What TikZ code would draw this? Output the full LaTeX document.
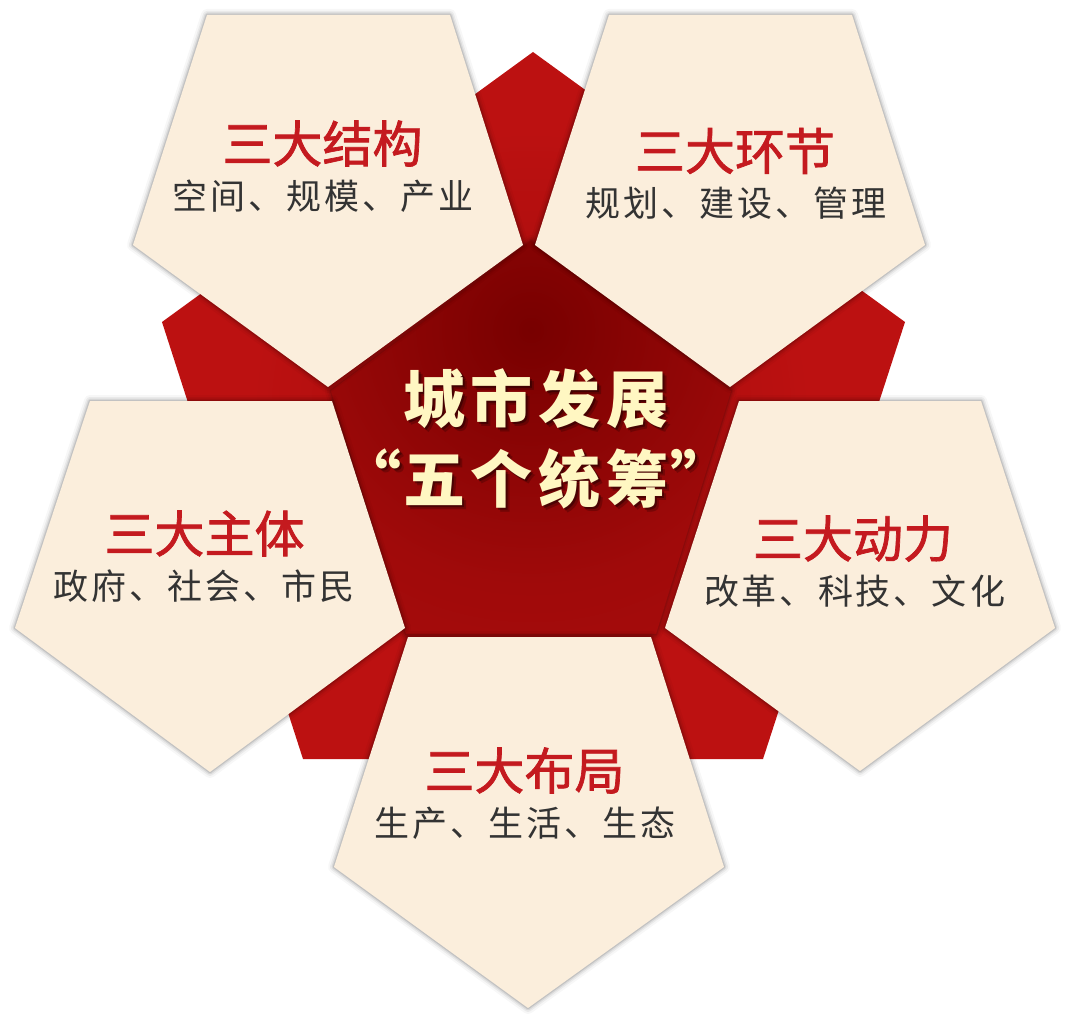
\documentclass[tikz,border=0pt]{standalone}
\usepackage{fontspec}
\newfontfamily\cjk{Noto Sans CJK SC}
\newfontfamily\cjkmed[FakeBold=1.4]{Noto Sans CJK SC}
\definecolor{cream}{HTML}{FBEEDC}
\definecolor{titlered}{HTML}{C41A1F}
\definecolor{subgray}{HTML}{333333}
\definecolor{cyellow}{HTML}{FFF7C2}
\definecolor{oc0}{HTML}{A20A0A}
\definecolor{oc1}{HTML}{BC1111}
\definecolor{rc0}{HTML}{780000}
\definecolor{rc1}{HTML}{8C0505}
\definecolor{rc2}{HTML}{A00A0A}
\definecolor{rc3}{HTML}{A80C0C}
\pgfdeclareradialshading{outerglow}{\pgfpoint{0bp}{0bp}}{color(0bp)=(oc0); color(14bp)=(oc1); color(50bp)=(oc1)}
\pgfdeclareradialshading{innerglow}{\pgfpoint{0bp}{0bp}}{color(0bp)=(rc0); color(8bp)=(rc1); color(16bp)=(rc2); color(25bp)=(rc3); color(50bp)=(rc3)}
\newcommand\ks{\kern3pt}
\newcommand\kc{\kern6pt}
\newcommand\pentpath[5]{#1--#2--#3--#4--#5--cycle}
\newcommand\pentglow[5]{%
  \foreach \w/\o in {12/0.03,8/0.05,5/0.07,2.5/0.10}{%
    \draw[black,line width=\w pt,draw opacity=\o,line join=round] \pentpath{#1}{#2}{#3}{#4}{#5};}}
\newcommand\pentfill[5]{\fill[cream] \pentpath{#1}{#2}{#3}{#4}{#5};}
\newcommand\ctextat[4]{%
  \node[ctext,#4] (#1a) at (536+#2,422.6+#3) {城\kc 市\kc 发\kc 展};
  \node[ctext,#4] (#1b) at (536+#2,502.6+#3) {五\kc 个\kc 统\kc 筹};
  \node[ctext,#4,anchor=base east] (#1q) at (402+#2,502.6+#3) {“};
  \node[ctext,#4,anchor=base west] (#1r) at (670+#2,502.6+#3) {”};
}
\begin{document}
\begin{tikzpicture}[x=1pt,y=-1pt,
  titletext/.style={font=\cjkmed\fontsize{50}{60}\selectfont, text=titlered, anchor=base, inner sep=0pt},
  subtext/.style={font=\cjk\fontsize{35}{42}\selectfont, text=subgray, anchor=base, inner sep=0pt},
  ctext/.style={font=\cjk\bfseries\fontsize{62}{72}\selectfont, anchor=base, inner sep=0pt}
]
\useasboundingbox[fill=white] (0,0) rectangle (1071,1024);
% big red pentagon
\begin{scope}
  \clip (533,52) -- (905,322) -- (763,759) -- (303,759) -- (162,322) -- cycle;
  \shade[shading=outerglow] (531,410) circle[radius=500];
\end{scope}
% central dark pentagon
\pentglow{(531,241)}{(731,391)}{(656,634)}{(406,634)}{(331,391)}
\begin{scope}
  \clip (531,241) -- (731,391) -- (656,634) -- (406,634) -- (331,391) -- cycle;
  \shade[shading=innerglow] (531,330) circle[radius=400];
\end{scope}
% shadows of the cream pentagons
\pentglow{(207,15)}{(450,15)}{(523,245)}{(328,387)}{(133,245)}
\pentglow{(609,15)}{(852,15)}{(925,245)}{(730,387)}{(535,245)}
\pentglow{(90,401)}{(332,401)}{(405,628)}{(210,772)}{(15,628)}
\pentglow{(739,401)}{(981,401)}{(1055,628)}{(860,771)}{(665,628)}
\pentglow{(408,637)}{(651,637)}{(724,867)}{(528,1008)}{(334,867)}
% cream pentagons
\pentfill{(207,15)}{(450,15)}{(523,245)}{(328,387)}{(133,245)}
\pentfill{(609,15)}{(852,15)}{(925,245)}{(730,387)}{(535,245)}
\pentfill{(90,401)}{(332,401)}{(405,628)}{(210,772)}{(15,628)}
\pentfill{(739,401)}{(981,401)}{(1055,628)}{(860,771)}{(665,628)}
\pentfill{(408,637)}{(651,637)}{(724,867)}{(528,1008)}{(334,867)}
% texts
\node[titletext] (t1) at (322.5,162.5) {三大结构};
\node[subtext] (s1) at (323,209.3) {空\ks 间\ks 、\ks 规\ks 模\ks 、\ks 产\ks 业};
\node[titletext] (t2) at (735,170) {三大环节};
\node[subtext] (s2) at (736,216.3) {规\ks 划\ks 、\ks 建\ks 设\ks 、\ks 管\ks 理};
\node[titletext] (t3) at (204.5,552.5) {三大主体};
\node[subtext] (s3) at (204,599.3) {政\ks 府\ks 、\ks 社\ks 会\ks 、\ks 市\ks 民};
\node[titletext] (t4) at (853,557.5) {三大动力};
\node[subtext] (s4) at (854.5,604.8) {改\ks 革\ks 、\ks 科\ks 技\ks 、\ks 文\ks 化};
\node[titletext] (t5) at (524.5,789.5) {三大布局};
\node[subtext] (s5) at (525,836.8) {生\ks 产\ks 、\ks 生\ks 活\ks 、\ks 生\ks 态};
% central text with shadow
\ctextat{sha}{4}{4}{text=black,text opacity=0.22}
\ctextat{shb}{2}{2}{text=black,text opacity=0.35}
\ctextat{main}{0}{0}{text=cyellow}
\end{tikzpicture}
\end{document}
